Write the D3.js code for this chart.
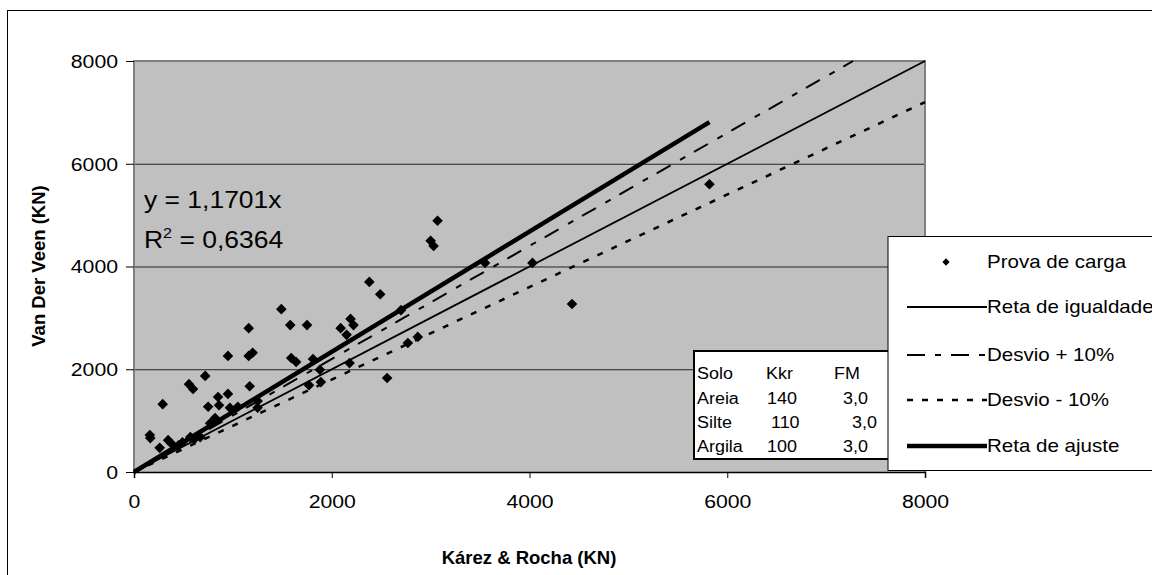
<!DOCTYPE html>
<html>
<head>
<meta charset="utf-8">
<script src="https://cdn.jsdelivr.net/npm/d3@7"></script>
<style>
  body { margin: 0; background: #fff; }
  text { font-family: Arial, "Liberation Sans", sans-serif; fill: #000; }
</style>
</head>
<body>
<div id="chart"></div>
<script>
// Load test values (Kárez & Rocha vs Van Der Veen)
const karezRocha = [160, 165, 290, 345, 556, 597, 720, 950, 1160, 1160, 1200, 1490, 1580, 1750, 1590, 1640,
  1810, 2090, 2190, 2220, 2150, 2380, 2490, 1170, 850, 950, 750, 860, 970, 1050, 1250, 1250, 1880, 1890,
  1770, 2180, 2560, 2770, 2870, 2700, 3550, 4030, 4430, 3070, 3000, 3030, 5820, 490, 570, 670, 770, 820,
  260, 380, 450, 610];
const vanDerVeen = [720, 660, 1320, 620, 1710, 1615, 1870, 2260, 2800, 2260, 2320, 3170, 2860, 2860, 2220, 2140,
  2200, 2800, 2980, 2860, 2670, 3700, 3460, 1670, 1460, 1520, 1270, 1300, 1250, 1270, 1380, 1250, 1990, 1750,
  1690, 2120, 1830, 2510, 2630, 3150, 4070, 4070, 3270, 4890, 4500, 4400, 5600, 580, 680, 680, 950, 1050,
  470, 550, 520, 640];

const xTicks = [0, 2000, 4000, 6000, 8000];
const yTicks = [0, 2000, 4000, 6000, 8000];
const fitSlope = 1.1701;
const fitR2 = "0,6364";

const legendLabels = ["Prova de carga", "Reta de igualdade", "Desvio + 10%", "Desvio - 10%", "Reta de ajuste"];
const tableRows = [["Solo", "Kkr", "FM"], ["Areia", "140", "3,0"], ["Silte", "110", "3,0"], ["Argila", "100", "3,0"]];

const W = 1152, H = 575;
const svg = d3.select("#chart").append("svg").attr("width", W).attr("height", H);

// stretch text horizontally like the original (Excel export is a bit wide)
const stretch = (sel, k) => sel.each(function () {
  const len = this.getComputedTextLength();
  d3.select(this).attr("textLength", len * k).attr("lengthAdjust", "spacingAndGlyphs");
});

// outer chart frame
svg.append("rect").attr("x", 7.5).attr("y", 10.5).attr("width", 1160).attr("height", 580)
  .attr("fill", "#fff").attr("stroke", "#000").attr("stroke-width", 1);

const x = d3.scaleLinear().domain([0, 8000]).range([134, 925]);
const y = d3.scaleLinear().domain([0, 8000]).range([472, 61]);

// plot area
svg.append("rect").attr("x", x(0)).attr("y", y(8000)).attr("width", x(8000) - x(0)).attr("height", y(0) - y(8000))
  .attr("fill", "#c0c0c0");

// Grid
svg.append("g")
  .attr("transform", "translate(" + x(0) + ",0)")
  .call(d3.axisLeft(y).tickValues([2000, 4000, 6000]).tickSize(-(x(8000) - x(0))).tickFormat(""))
  .call(g => g.select(".domain").remove())
  .call(g => g.selectAll("line").attr("stroke", "#222").attr("stroke-width", 1));

// plot border (gray)
svg.append("path")
  .attr("d", "M" + x(0) + "," + y(0) + "V" + y(8000) + "H" + x(8000) + "V" + y(0))
  .attr("fill", "none").attr("stroke", "#808080").attr("stroke-width", 2);

// Y-Axis
const yAxis = svg.append("g")
  .attr("transform", "translate(" + x(0) + ",0)")
  .call(d3.axisLeft(y).tickValues(yTicks).tickSize(8).tickPadding(8).tickFormat(d3.format("d")));
yAxis.select(".domain").remove();
yAxis.selectAll("line").attr("stroke", "#000");
yAxis.selectAll("text").attr("font-size", 18).attr("font-family", "Arial, 'Liberation Sans'").attr("fill", "#000")
  .attr("dy", "0.36em").call(stretch, 1.18);

// X-Axis
const xAxis = svg.append("g")
  .attr("transform", "translate(0," + y(0) + ")")
  .call(d3.axisBottom(x).tickValues(xTicks).tickSize(6).tickPadding(17).tickFormat(d3.format("d")));
xAxis.select(".domain").attr("stroke", "#000").attr("stroke-width", 1.5);
xAxis.selectAll("line").attr("stroke", "#000");
xAxis.selectAll("text").attr("font-size", 18).attr("font-family", "Arial, 'Liberation Sans'").attr("fill", "#000")
  .call(stretch, 1.18);

// axis titles
svg.append("text").attr("transform", "translate(45,266) rotate(-90)")
  .attr("text-anchor", "middle").attr("font-size", 18.5).attr("font-weight", "bold")
  .text("Van Der Veen (KN)");
svg.append("text").attr("x", 529).attr("y", 564)
  .attr("text-anchor", "middle").attr("font-size", 18.5).attr("font-weight", "bold")
  .text("Kárez & Rocha (KN)");

// reference lines
const lineFunc = d3.line().x(d => x(d[0])).y(d => y(d[1]));
const maxX = d3.max(karezRocha);
const lines = [
  { pts: [[0, 0], [8000, 8000]], w: 1.8, dash: null },
  { pts: [[0, 0], [8000 / 1.1, 8000]], w: 2, dash: "16,11,6,10" },
  { pts: [[0, 0], [8000, 8000 * 0.9]], w: 2.5, dash: "6,9.5" },
  { pts: [[0, 0], [maxX, maxX * fitSlope]], w: 4.5, dash: null }
];
lines.forEach(l => {
  svg.append("path").attr("d", lineFunc(l.pts))
    .attr("fill", "none").attr("stroke", "#000").attr("stroke-width", l.w)
    .attr("stroke-dasharray", l.dash);
});

// points
const diamond = d3.symbol().type(d3.symbolDiamond2).size(72);
svg.append("g").selectAll("path")
  .data(d3.zip(karezRocha, vanDerVeen))
  .join("path")
  .attr("d", diamond)
  .attr("transform", d => "translate(" + x(d[0]) + "," + y(d[1]) + ")")
  .attr("fill", "#000");

// regression equation
svg.append("text").attr("x", 144).attr("y", 208).attr("font-size", 23)
  .text("y = 1,1701x").call(stretch, 1.15);
const r2 = svg.append("text").attr("x", 144).attr("y", 248).attr("font-size", 23);
r2.append("tspan").text("R");
r2.append("tspan").attr("font-size", 14).attr("dy", -10).text("2");
r2.append("tspan").attr("dy", 10).text(" = " + fitR2);
r2.call(stretch, 1.15);

// soil table box
svg.append("rect").attr("x", 694).attr("y", 351).attr("width", 196).attr("height", 108)
  .attr("fill", "#fff").attr("stroke", "#000").attr("stroke-width", 2);
const colX = [[697, 766, 834], [697, 767, 843], [697, 771, 852], [697, 767, 843]];
const rowY = [379, 404, 428, 452];
tableRows.forEach((row, i) => {
  row.forEach((cell, j) => {
    svg.append("text").attr("x", colX[i][j]).attr("y", rowY[i]).attr("font-size", 16)
      .text(cell).call(stretch, 1.12);
  });
});

// legend
svg.append("rect").attr("x", 888).attr("y", 236.5).attr("width", 300).attr("height", 234)
  .attr("fill", "#fff").attr("stroke", "#000").attr("stroke-width", 1);
const legY = [262, 307, 355, 400, 446];
svg.append("path").attr("d", d3.symbol().type(d3.symbolDiamond2).size(34))
  .attr("transform", "translate(946," + legY[0] + ")").attr("fill", "#000");
lines.forEach((l, i) => {
  svg.append("line").attr("x1", 907).attr("x2", 987).attr("y1", legY[i + 1]).attr("y2", legY[i + 1])
    .attr("stroke", "#000").attr("stroke-width", l.w)
    .attr("stroke-dasharray", i == 1 ? "18,10,6,10" : (i == 2 ? "6,9" : null));
});
legendLabels.forEach((t, i) => {
  svg.append("text").attr("x", 987).attr("y", legY[i] + 6).attr("font-size", 19)
    .text(t).call(stretch, 1.08);
});
</script>
</body>
</html>
